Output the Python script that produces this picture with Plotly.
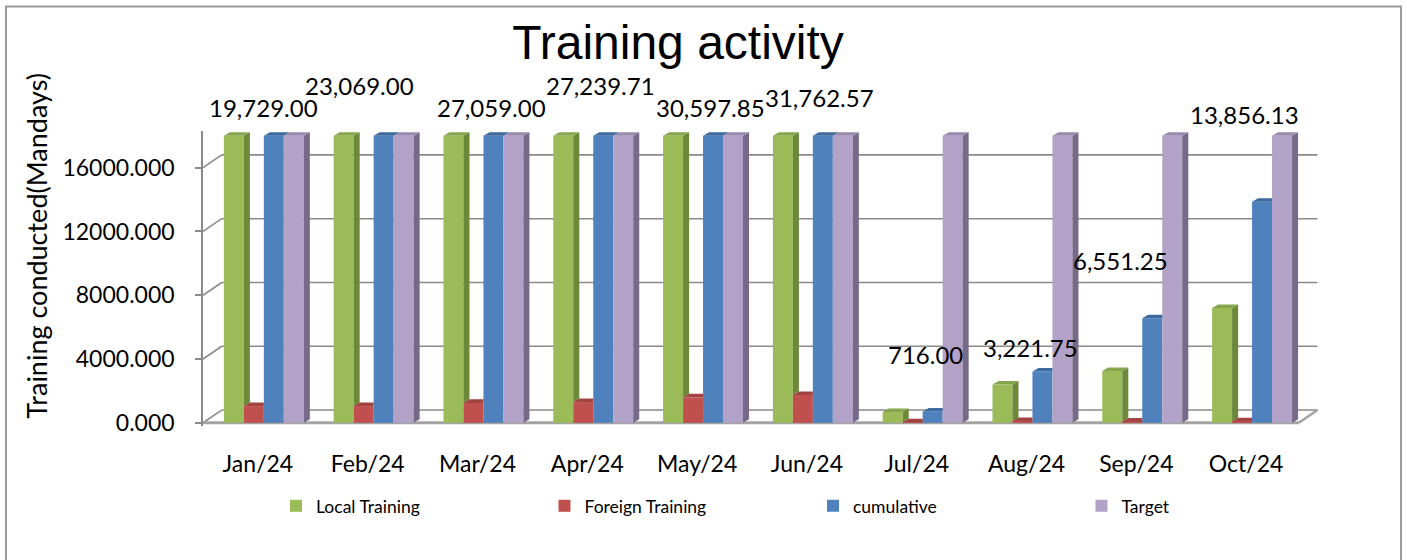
import numpy as np
import plotly.graph_objects as go

# ---------------- data ----------------
categories = ["Jan/24", "Feb/24", "Mar/24", "Apr/24", "May/24", "Jun/24",
              "Jul/24", "Aug/24", "Sep/24", "Oct/24"]
local_training = [18629, 21969, 25809, 25940, 28948, 30013, 680, 2400, 3250, 7200]
foreign_training = [1050, 1050, 1250, 1300, 1600, 1750, 36, 105.75, 79.5, 104.88]
cumulative = [19729.00, 23069.00, 27059.00, 27239.71, 30597.85, 31762.57,
              716.00, 3221.75, 6551.25, 13856.13]
target = [18000, 18000, 18000, 18000, 18000, 18000, 18000, 18000, 18000, 18000]
series_names = ["Local Training", "Foreign Training", "cumulative", "Target"]
y_tick_values = [0, 4000, 8000, 12000, 16000]
y_tick_labels = ["0.000", "4000.000", "8000.000", "12000.000", "16000.000"]
AXIS_MAX = 18000  # value axis maximum (bars above it are capped, as in the source)

# ---------------- style ----------------
FRONT = ["#9BBB59", "#C0504D", "#4F81BD", "#B3A2C7"]
SIDE = ["#6C8839", "#8C3937", "#3A6190", "#776A89"]
TOP = ["#86A64B", "#A04341", "#3D6A9F", "#9A89AF"]
GRID = "#8a8a8a"
FONT = "Lato"

W, H = 1407, 560
PX_X = 109.8          # px per category
PX_Y = 0.01593        # px per unit value
X_RANGE = [-0.5, 9.7]
Y_RANGE = [-200, 18300]
ML = 203
ZERO_PX = 423
PW = (X_RANGE[1] - X_RANGE[0]) * PX_X
PH = (Y_RANGE[1] - Y_RANGE[0]) * PX_Y
MT = ZERO_PX - Y_RANGE[1] * PX_Y
MB = H - (ZERO_PX - Y_RANGE[0] * PX_Y)
MR = W - ML - PW

BAR_W = 0.182
GROUP_START = -0.31
FACE_DX = 0.055
FACE_DY = 220
WALL_DX = 0.17
WALL_DY = 800


def paper_x(px):
    return (px - ML) / PW


def paper_y(py):
    return (MT + PH - py) / PH


series_values = [local_training, foreign_training, cumulative, target]
shown = [np.minimum(np.array(v, dtype=float), AXIS_MAX) for v in series_values]
xs = np.arange(len(categories))

fig = go.Figure()

# front faces (real bars)
for s, name in enumerate(series_names):
    fig.add_trace(go.Bar(
        x=xs, y=shown[s], name=name,
        offset=GROUP_START + s * BAR_W, width=BAR_W,
        marker=dict(color=FRONT[s], line=dict(width=0)),
        customdata=series_values[s],
        hovertemplate="%{customdata:,.2f}<extra>" + name + "</extra>",
    ))

# pseudo-3D side and top faces derived from the same values
for s in range(len(series_names)):
    sx, sy, tx, ty = [], [], [], []
    for i in xs:
        x0 = i + GROUP_START + s * BAR_W
        x1 = x0 + BAR_W
        h = shown[s][i]
        hn = shown[s + 1][i] if s < len(series_names) - 1 else 0.0
        if h > hn:
            sx += [x1, x1 + FACE_DX, x1 + FACE_DX, x1, x1, None]
            sy += [hn, hn + FACE_DY, h + FACE_DY, h, hn, None]
        xr = x1 if hn > h else x1 + FACE_DX
        tx += [x0, x0 + FACE_DX, xr, x1, x0, None]
        ty += [h, h + FACE_DY, h + FACE_DY, h, h, None]
    fig.add_trace(go.Scatter(x=sx, y=sy, fill="toself", fillcolor=SIDE[s],
                             mode="lines", line=dict(width=0),
                             showlegend=False, hoverinfo="skip"))
    fig.add_trace(go.Scatter(x=tx, y=ty, fill="toself", fillcolor=TOP[s],
                             mode="lines", line=dict(width=0),
                             showlegend=False, hoverinfo="skip"))

# back wall gridlines + floor
shapes = []
x_back_l = X_RANGE[0] + WALL_DX
x_back_r = X_RANGE[1] - 0.05
for v in y_tick_values:
    shapes.append(dict(type="line", xref="x", yref="y", layer="below",
                       x0=X_RANGE[0], y0=v, x1=x_back_l, y1=v + WALL_DY,
                       line=dict(color=GRID, width=1.6)))
    shapes.append(dict(type="line", xref="x", yref="y", layer="below",
                       x0=x_back_l, y0=v + WALL_DY, x1=x_back_r, y1=v + WALL_DY,
                       line=dict(color=GRID, width=1.6)))
x_front_r = x_back_r - WALL_DX
shapes.append(dict(type="line", xref="x", yref="y", layer="below",
                   x0=X_RANGE[0], y0=0, x1=x_front_r, y1=0,
                   line=dict(color="#a3a3a3", width=3)))
shapes.append(dict(type="line", xref="x", yref="y", layer="below",
                   x0=x_front_r, y0=0, x1=x_back_r, y1=WALL_DY,
                   line=dict(color="#a3a3a3", width=2.5)))
# chart border
shapes.append(dict(type="rect", xref="paper", yref="paper",
                   x0=paper_x(6), y0=paper_y(620), x1=paper_x(1401), y1=paper_y(7),
                   line=dict(color="#9a9a9a", width=2), fillcolor="rgba(0,0,0,0)"))

# data labels on the cumulative series
label_dx = [-10, -24, -2, -3, -3, -3, -7, -12, -32, -18]
label_dy = [28, 50, 28, 50, 28, 38, 57, 24, 58, 87]
annotations = []
for i, v in enumerate(cumulative):
    annotations.append(dict(
        x=i + GROUP_START + 2.5 * BAR_W, y=shown[2][i], xref="x", yref="y",
        text=f"{v:,.2f}", showarrow=False, xanchor="center", yanchor="middle",
        xshift=label_dx[i], yshift=label_dy[i],
        font=dict(family=FONT, size=24, color="#000000")))

annotations.append(dict(
    x=paper_x(37), y=paper_y(246), xref="paper", yref="paper",
    text="Training conducted(Mandays)", textangle=-90, showarrow=False,
    xanchor="center", yanchor="middle",
    font=dict(family=FONT, size=27, color="#000000")))

fig.update_layout(
    width=W, height=H, autosize=False,
    margin=dict(l=ML, r=MR, t=MT, b=MB, pad=0),
    paper_bgcolor="white", plot_bgcolor="white",
    barmode="overlay",
    title=dict(text="Training activity", x=678 / W, xanchor="center",
               y=1 - 42 / H, yanchor="middle",
               font=dict(family="Liberation Sans", size=48, color="#000000")),
    xaxis=dict(range=X_RANGE, tickmode="array", tickvals=list(xs), ticktext=categories,
               showgrid=False, zeroline=False, showline=False, ticks="",
               ticklabelstandoff=22,
               tickfont=dict(family=FONT, size=23, color="#000000")),
    yaxis=dict(range=Y_RANGE, tickmode="array", tickvals=y_tick_values,
               ticktext=y_tick_labels, showgrid=False, zeroline=False,
               showline=True, linecolor=GRID, linewidth=1.6,
               ticks="outside", ticklen=6, tickcolor=GRID, tickwidth=1.6,
               ticklabelstandoff=16,
               tickfont=dict(family=FONT, size=23, color="#000000")),
    legend=dict(orientation="h", x=paper_x(276), xanchor="left",
                y=paper_y(506), yanchor="middle",
                entrywidth=223.5, entrywidthmode="pixels",
                font=dict(family=FONT, size=17.5, color="#000000"),
                bgcolor="rgba(0,0,0,0)"),
    shapes=shapes,
    annotations=annotations,
    showlegend=True,
)

fig.write_html("out.html",
               config={"displayModeBar": False},
               post_script="document.body.style.margin='0';document.body.style.padding='0';")
